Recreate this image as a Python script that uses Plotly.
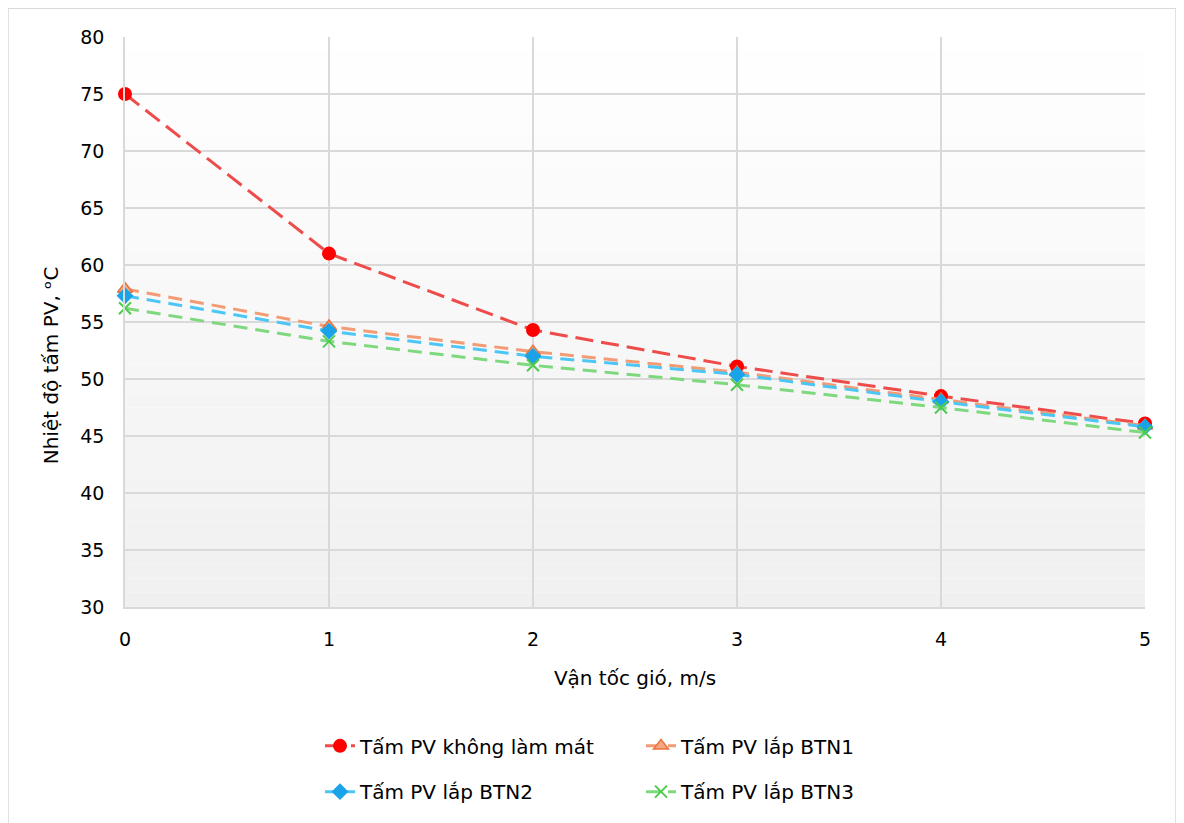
import plotly.graph_objects as go

wind = [0, 1, 2, 3, 4, 5]
no_cool = [75.0, 61.0, 54.3, 51.1, 48.5, 46.1]
btn1 = [57.9, 54.6, 52.4, 50.6, 48.2, 45.9]
btn2 = [57.3, 54.2, 52.0, 50.4, 48.0, 45.8]
btn3 = [56.2, 53.3, 51.2, 49.5, 47.5, 45.3]

names = ["Tấm PV không làm mát", "Tấm PV lắp BTN1", "Tấm PV lắp BTN2", "Tấm PV lắp BTN3"]
x_ticks = [0, 1, 2, 3, 4, 5]
y_ticks = [30, 35, 40, 45, 50, 55, 60, 65, 70, 75, 80]
x_title = "Vận tốc gió, m/s"
y_title = "Nhiệt độ tấm PV, ᵒC"

FONT = "DejaVu Sans"

# figure placed at page offset 8px (body margin)
W, H = 1176, 815
L, T, R, B = 117, 29, 39, 213
PW, PH = W - L - R, H - T - B   # 1020 x 573


def px_x(fx):
    return (fx - L) / PW


def px_y(fy):
    return (T + PH - fy) / PH


fig = go.Figure()
fig.add_trace(go.Scatter(x=wind, y=no_cool, name=names[0], mode="lines+markers",
                         line=dict(color="#EE4B4B", width=3, dash="18px,8px"),
                         marker=dict(symbol="circle", size=14, color="#FF0000"),
                         cliponaxis=False, legend="legend"))
fig.add_trace(go.Scatter(x=wind, y=btn1, name=names[1], mode="lines+markers",
                         line=dict(color="#F29B74", width=3, dash="14px,8px"),
                         marker=dict(symbol="triangle-up", size=13, color="#F4A582",
                                     line=dict(color="#E8743B", width=1.5)),
                         cliponaxis=False, legend="legend"))
fig.add_trace(go.Scatter(x=wind, y=btn2, name=names[2], mode="lines+markers",
                         line=dict(color="#4CC6F5", width=3, dash="14px,8px"),
                         marker=dict(symbol="diamond", size=13, color="#1AA3E8"),
                         cliponaxis=False, legend="legend2"))
fig.add_trace(go.Scatter(x=wind, y=btn3, name=names[3], mode="lines+markers",
                         line=dict(color="#7ED87E", width=3, dash="14px,8px"),
                         marker=dict(symbol="x-thin", size=12, color="#4CCB4C",
                                     line=dict(color="#4CCB4C", width=2)),
                         cliponaxis=False, legend="legend2"))

# background gradient in plot area
shapes = []
n = 40
for i in range(n):
    v = int(round(255 - (255 - 240) * (1 - (i + 0.5) / n)))
    shapes.append(dict(type="rect", xref="x domain", yref="y domain",
                       x0=0, x1=1, y0=i / n, y1=(i + 1) / n, layer="below",
                       line=dict(width=0), fillcolor=f"rgb({v},{v},{v})"))
# outer border
shapes.append(dict(type="rect", xref="paper", yref="paper",
                   x0=px_x(0), x1=px_x(1168), y0=px_y(840), y1=px_y(0),
                   line=dict(color="#D9D9D9", width=1.5), layer="below"))

leg_common = dict(orientation="h", xanchor="left", yanchor="top",
                  entrywidth=276, font=dict(size=20, family=FONT),
                  bgcolor="rgba(0,0,0,0)")

fig.update_layout(
    width=W, height=H,
    margin=dict(l=L, r=R, t=T, b=B),
    paper_bgcolor="white",
    plot_bgcolor="rgba(0,0,0,0)",
    font=dict(family=FONT, size=18, color="#000000"),
    shapes=shapes,
    showlegend=True,
    legend=dict(x=px_x(312), y=px_y(722), **leg_common),
    legend2=dict(x=px_x(312), y=px_y(768), **leg_common),
    annotations=[dict(text=y_title, textangle=-90, xref="paper", yref="paper",
                      x=px_x(43), y=px_y(359), xanchor="center", yanchor="middle",
                      showarrow=False, font=dict(size=20, family=FONT))],
)
fig.update_xaxes(range=[0, 5], tickvals=x_ticks, showgrid=True, gridcolor="#D9D9D9",
                 gridwidth=1.5, zeroline=False, showline=True, linecolor="#D9D9D9",
                 linewidth=1.5, ticks="", ticklen=0, ticklabelstandoff=14,
                 title=dict(text=x_title, font=dict(size=20), standoff=22),
                 tickfont=dict(size=19))
fig.update_yaxes(range=[30, 80], tickvals=y_ticks, showgrid=True, gridcolor="#D9D9D9",
                 gridwidth=1.5, zeroline=False, showline=True, linecolor="#D9D9D9",
                 linewidth=1.5, ticks="", ticklen=0, ticklabelstandoff=15,
                 tickfont=dict(size=19))

fig.write_html("out.html")
